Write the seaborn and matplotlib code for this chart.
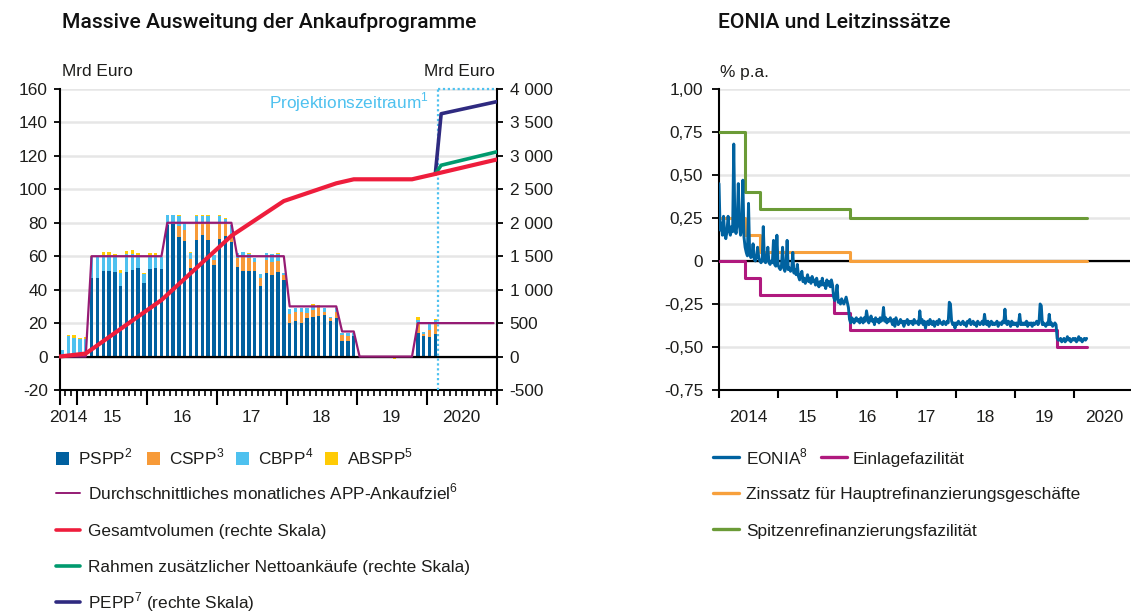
import numpy as np
import pandas as pd
import matplotlib
matplotlib.use("Agg")
import matplotlib.pyplot as plt
from matplotlib.lines import Line2D
from matplotlib.patches import Rectangle
import seaborn as sns

sns.set_theme(style="white")
plt.rcParams["font.family"] = ["Liberation Sans", "DejaVu Sans"]
plt.rcParams["mathtext.fontset"] = "custom"
plt.rcParams["mathtext.rm"] = "Liberation Sans"

# ---------------------------------------------------------------- data: APP
# monthly net purchases (Mrd Euro), Oct 2014 .. Feb 2020
pspp = [0, 0, 0, 0, 0,
        46.7, 47.0, 51.0, 51.0, 50.3, 41.9, 50.3, 51.5, 52.7, 43.9,
        52.1, 52.7, 52.5, 78.5, 79.4, 71.3, 68.9, 53.0, 69.5, 72.5, 69.5, 54.5,
        70.5, 72.0, 68.5, 53.5, 51.0, 51.0, 51.0, 42.0, 50.0, 49.0, 50.5, 45.5,
        20.2, 21.0, 19.8, 23.0, 23.4, 24.0, 24.6, 21.5, 22.8, 9.2, 9.6, 12.0,
        0, 0, 0, 0, 0, 0, 0, 0, 0, 0, 13.8, 12.0, 11.6, 13.2]
cspp = [0, 0, 0, 0, 0,
        0, 0, 0, 0, 0, 0, 0, 0, 0, 0,
        0, 0, 0, 0, 0, 6.6, 6.6, 5.5, 10.5, 8.0, 10.4, 3.4,
        9.0, 7.0, 5.0, 5.6, 8.4, 8.0, 5.5, 5.0, 8.0, 7.4, 6.4, 3.0,
        5.4, 5.6, 6.6, 3.0, 4.6, 6.0, 2.2, 1.6, 3.6, 3.4, 2.4, 0,
        0, 0.6, 0, 0, 0, 0, 0, 0, 0.4, 0, 6.0, 1.6, 4.4, 6.0]
cbpp = [4.0, 12.0, 10.8, 10.2, 10.2,
        12.8, 12.4, 10.0, 10.0, 9.6, 7.8, 10.8, 10.0, 8.2, 5.4,
        8.0, 7.4, 7.0, 6.0, 5.4, 6.0, 5.0, 3.5, 4.0, 3.4, 4.0, 2.6,
        4.4, 3.5, 5.0, 2.8, 3.0, 2.4, 2.5, 2.4, 4.0, 5.0, 4.6, 1.4,
        3.0, 2.6, 2.8, 3.0, 2.4, 0, 2.4, 0.8, 2.8, 1.4, 2.0, 2.0,
        0, 0, 0, 0, 0, 0, 0, 0, 0, 0, 2.0, 1.0, 3.4, 2.8]
abspp = [0, 0.6, 1.8, 0.6, 1.2,
         0.6, 0, 1.8, 1.6, 1.4, 1.8, 1.8, 2.0, 1.2, 0.6,
         1.6, 1.6, 0, 0.3, 0, 0.6, 0, 0.4, 0.6, 0.8, 1.0, 0,
         0.6, 0.5, 0, 0, 0, 0.4, 0, 0, 0, 0, 0.6, 0,
         0, 0, 0, 0, 0.8, 0.6, 0, 0, 0, 0, 0, 0,
         0, 0, 0, 0, 0, 0.4, -1.2, 0, 0, 0, 2.0, 0, 0, 0.6]

# average monthly APP purchase target, Oct 2014 .. Dec 2020
target = ([0, 0, 0, 0, 0]
          + [60] * 13 + [80] * 12 + [60] * 9 + [30] * 9 + [15] * 3
          + [0] * 10 + [20] * 14)

# holdings on the right scale (Mrd Euro), vertices at month positions
total_pos = [-0.5, 4, 17, 29, 38, 47, 50, 60, 64, 74.5]
total_val = [0, 45, 845, 1805, 2325, 2590, 2650, 2650, 2730, 2945]
frame_pos = [64, 65, 74.5]
frame_val = [2730, 2860, 3060]
pepp_pos = [64, 65, 74.5]
pepp_val = [2730, 3630, 3810]

year_labels_l = ["2014", "15", "16", "17", "18", "19", "2020"]
left_ticks = [-20, 0, 20, 40, 60, 80, 100, 120, 140, 160]
right_ticks = [-500, 0, 500, 1000, 1500, 2000, 2500, 3000, 3500, 4000]

# ---------------------------------------------------------------- data: rates
eonia = [
    # 2014
    0.45, 0.18, 0.22, 0.15, 0.26, 0.16, 0.13, 0.17, 0.26, 0.18, 0.15, 0.20, 0.17,
    0.68, 0.20, 0.16, 0.22, 0.45, 0.21, 0.15, 0.19, 0.47, 0.14, 0.08, 0.05, 0.03,
    0.335, 0.04, 0.02, 0.03, 0.10, 0.01, 0.00, 0.02, 0.08, 0.02, 0.00, -0.01, 0.00,
    0.20, 0.00, -0.01, 0.01, 0.08, -0.01, -0.02, 0.00, -0.01, 0.12, -0.02, -0.03,
    0.15, -0.02,
    # 2015
    -0.04, -0.05, -0.03, 0.08, -0.04, -0.06, -0.03, 0.12, -0.05, -0.04, -0.06, -0.05,
    0.05, -0.07, -0.05, -0.08, -0.02, -0.09, -0.11, -0.08, -0.06, -0.12, -0.10, -0.13,
    -0.11, -0.08, -0.12, -0.10, -0.13, -0.09, -0.12, -0.11, -0.14, -0.10, -0.13, -0.15,
    -0.12, -0.14, -0.10, -0.14, -0.13, -0.16, -0.11, -0.14, -0.12, -0.15, -0.11, -0.14,
    -0.21, -0.23, -0.20, -0.14,
    # 2016
    -0.24, -0.23, -0.25, -0.22, -0.24, -0.25, -0.23, -0.21, -0.24, -0.27, -0.34, -0.36,
    -0.33, -0.34, -0.36, -0.34, -0.33, -0.35, -0.34, -0.36, -0.33, -0.34, -0.36, -0.33,
    -0.35, -0.29, -0.33, -0.36, -0.34, -0.32, -0.35, -0.34, -0.37, -0.33, -0.35, -0.34,
    -0.36, -0.33, -0.35, -0.34, -0.27, -0.35, -0.33, -0.36, -0.34, -0.35, -0.33, -0.35,
    -0.37, -0.34, -0.38, -0.33,
    # 2017
    -0.35, -0.37, -0.36, -0.34, -0.36, -0.35, -0.38, -0.35, -0.36, -0.34, -0.37, -0.35,
    -0.36, -0.35, -0.37, -0.34, -0.36, -0.36, -0.35, -0.37, -0.29, -0.36, -0.34, -0.37,
    -0.35, -0.39, -0.36, -0.35, -0.37, -0.34, -0.36, -0.37, -0.35, -0.38, -0.36, -0.35,
    -0.37, -0.34, -0.36, -0.36, -0.37, -0.35, -0.36, -0.37, -0.35, -0.36, -0.24, -0.25,
    -0.35, -0.37, -0.36, -0.39,
    # 2018
    -0.36, -0.37, -0.35, -0.36, -0.37, -0.36, -0.35, -0.37, -0.36, -0.38, -0.35, -0.36,
    -0.34, -0.37, -0.36, -0.35, -0.37, -0.36, -0.38, -0.35, -0.36, -0.37, -0.36, -0.35,
    -0.37, -0.31, -0.36, -0.37, -0.35, -0.38, -0.36, -0.35, -0.37, -0.36, -0.37, -0.36,
    -0.35, -0.38, -0.36, -0.36, -0.37, -0.35, -0.36, -0.28, -0.36, -0.37, -0.35, -0.36,
    -0.38, -0.35, -0.37, -0.36,
    # 2019
    -0.37, -0.36, -0.38, -0.36, -0.31, -0.37, -0.36, -0.37, -0.36, -0.37, -0.35, -0.38,
    -0.36, -0.37, -0.36, -0.38, -0.36, -0.37, -0.36, -0.35, -0.37, -0.36, -0.25, -0.26,
    -0.37, -0.36, -0.37, -0.38, -0.36, -0.37, -0.31, -0.37, -0.36, -0.38, -0.37, -0.36,
    -0.37, -0.45, -0.46, -0.46, -0.45, -0.47, -0.46, -0.45, -0.47, -0.46, -0.44, -0.46,
    -0.45, -0.47, -0.46, -0.45,
    # 2020
    -0.46, -0.45, -0.47, -0.46, -0.44, -0.46, -0.45, -0.47, -0.46, -0.45, -0.46, -0.45,
]
rate_dates = ["2014-01-01", "2014-06-11", "2014-09-10", "2015-12-09",
              "2016-03-16", "2019-09-18", "2020-03-18"]
mlf = [0.75, 0.40, 0.30, 0.30, 0.25, 0.25, 0.25]
mro = [0.25, 0.15, 0.05, 0.05, 0.00, 0.00, 0.00]
dfr = [0.00, -0.10, -0.20, -0.30, -0.40, -0.50, -0.50]

rate_ticks = [-0.75, -0.50, -0.25, 0, 0.25, 0.50, 0.75, 1.00]
rate_labels = ["-0,75", "-0,50", "-0,25", "0", "0,25", "0,50", "0,75", "1,00"]
year_labels_r = ["2014", "15", "16", "17", "18", "19", "2020"]

# ---------------------------------------------------------------- styling
C_TXT = "#1d1d1b"
C_GRID = "#e6e6e6"
C_PSPP, C_CSPP, C_CBPP, C_ABS = "#00609f", "#f79a38", "#4ec1ef", "#ffcb05"
C_TARGET, C_TOTAL, C_FRAME, C_PEPP = "#951b74", "#ee1d3c", "#009a6e", "#2f2a80"
C_EONIA, C_DFR, C_MRO, C_MLF = "#0062a0", "#b0197e", "#f7a03c", "#6b9b37"
FS = 12.4

W, H = 1131, 612
fig = plt.figure(figsize=(W / 100, H / 100), dpi=100)
fig.patch.set_facecolor("white")


def fx(px):
    return px / W


def fy(py):
    return 1 - py / H


def yfrac(dates):
    d = pd.to_datetime(pd.Series(dates))
    days = np.where(d.dt.is_leap_year, 366, 365)
    return (d.dt.year + (d.dt.dayofyear - 1) / days).to_numpy()


def style_spines(a, keep):
    for name, sp in a.spines.items():
        sp.set_visible(name in keep)
        sp.set_color("black")
        sp.set_linewidth(1.5)


# ================================================================ left chart
ax = fig.add_axes([fx(59.5), fy(390), (496.5 - 59.5) / W, (390 - 89) / H])
ax.set_xlim(-0.5, 74.5)
ax.set_ylim(-20, 160)
ax.set_yticks(left_ticks)
ax.yaxis.grid(True, color=C_GRID, lw=1.8)
ax.set_axisbelow(True)

months = np.arange(len(pspp))
pos_bot = np.zeros(len(months))
neg_bot = np.zeros(len(months))
for vals, col in [(pspp, C_PSPP), (cspp, C_CSPP), (cbpp, C_CBPP), (abspp, C_ABS)]:
    v = np.asarray(vals, dtype=float)
    bottom = np.where(v >= 0, pos_bot, neg_bot)
    ax.bar(months, v, bottom=bottom, width=0.58, color=col, linewidth=0, zorder=2)
    pos_bot += np.clip(v, 0, None)
    neg_bot += np.clip(v, None, 0)

ax.axhline(0, color="black", lw=1.6, zorder=3)
sns.lineplot(x=np.arange(len(target)), y=target, ax=ax, color=C_TARGET, lw=1.6, zorder=4)

# projection window
proj_start = 64.45
ax.plot([proj_start, proj_start], [-20, 160], color=C_CBPP, lw=1.6, ls=(0, (1, 1.2)),
        zorder=5, clip_on=False)
ax.plot([proj_start, 74.5], [160, 160], color=C_CBPP, lw=1.6, ls=(0, (1, 1.2)),
        zorder=5, clip_on=False)
ax.text(62.9, 152.3, r"Projektionszeitraum$^\mathregular{1}$", color=C_CBPP,
        fontsize=FS, ha="right", va="center")

# x axis: year boundaries long, month boundaries short
year_edges = [-0.5, 2.5, 14.5, 26.5, 38.5, 50.5, 62.5, 74.5]
ax.set_xticks(year_edges)
ax.set_xticks(np.arange(-0.5, 75, 1.0), minor=True)
ax.tick_params(axis="x", which="major", length=11, width=1.5, color="black",
               labelbottom=False, bottom=True)
ax.tick_params(axis="x", which="minor", length=4.3, width=1.2, color="black", bottom=True)
for lab, xc in zip(year_labels_l, [1.0, 8.5, 20.5, 32.5, 44.5, 56.5, 68.5]):
    ax.text(xc, -0.093, lab, transform=ax.get_xaxis_transform(), ha="center",
            va="center", fontsize=FS, color=C_TXT)

ax.tick_params(axis="y", which="major", length=4.5, width=1.3, color="black",
               left=True, pad=4, labelsize=FS, labelcolor=C_TXT)
ax.set_yticklabels([f"{t:d}" for t in left_ticks])
ax.set_xlabel("")
ax.set_ylabel("")
style_spines(ax, ["left", "bottom"])

ax2 = ax.twinx()
ax2.set_ylim(-500, 4000)
ax2.set_yticks(right_ticks)
ax2.set_yticklabels([f"{t:,d}".replace(",", " ") for t in right_ticks])
ax2.tick_params(axis="y", length=4.5, width=1.3, color="black", right=True, pad=5,
                labelsize=FS, labelcolor=C_TXT)
ax2.grid(False)
style_spines(ax2, ["right"])
sns.lineplot(x=pepp_pos, y=pepp_val, ax=ax2, color=C_PEPP, lw=2.6, zorder=4)
sns.lineplot(x=frame_pos, y=frame_val, ax=ax2, color=C_FRAME, lw=2.6, zorder=5)
sns.lineplot(x=total_pos, y=total_val, ax=ax2, color=C_TOTAL, lw=3.0, zorder=6)
ax2.set_xlim(-0.5, 74.5)
ax2.set_xlabel("")
ax2.set_ylabel("")

# ================================================================ right chart
axr = fig.add_axes([fx(719), fy(390), (1130 - 719) / W, (390 - 89) / H])
x_end = 2014 + (1130 - 719) / 59.2
axr.set_xlim(2014, x_end)
axr.set_ylim(-0.75, 1.0)
axr.set_yticks(rate_ticks)
axr.set_yticklabels(rate_labels)
axr.yaxis.grid(True, color=C_GRID, lw=1.8)
axr.set_axisbelow(True)
axr.axhline(0, color="black", lw=1.6, zorder=2)

rx = yfrac(rate_dates)
sns.lineplot(x=rx, y=mlf, ax=axr, color=C_MLF, lw=2.2, drawstyle="steps-post", zorder=3)
sns.lineplot(x=rx, y=mro, ax=axr, color=C_MRO, lw=2.2, drawstyle="steps-post", zorder=3)
sns.lineplot(x=rx, y=dfr, ax=axr, color=C_DFR, lw=2.2, drawstyle="steps-post", zorder=3)
ex = yfrac(pd.date_range("2014-01-01", periods=len(eonia), freq="7D"))
sns.lineplot(x=ex, y=eonia, ax=axr, color=C_EONIA, lw=2.1, zorder=4)
axr.set_xlim(2014, x_end)
axr.set_xlabel("")
axr.set_ylabel("")

axr.set_xticks(np.arange(2014, 2021))
axr.tick_params(axis="x", length=5.8, width=1.5, color="black", bottom=True,
                labelbottom=False)
axr.tick_params(axis="y", length=5.4, width=1.3, color="black", left=True, pad=6,
                labelsize=FS, labelcolor=C_TXT)
for lab, xc in zip(year_labels_r, np.arange(2014, 2021) + 0.5):
    axr.text(xc, -0.09, lab, transform=axr.get_xaxis_transform(), ha="center",
             va="center", fontsize=FS, color=C_TXT)
style_spines(axr, ["left", "bottom"])

# ================================================================ titles & units
TITLE_FONT = dict(family=["Roboto", "Liberation Sans", "DejaVu Sans"], weight="medium",
                  fontsize=15.2, color="#111111", ha="left", va="baseline")
fig.text(fx(62), fy(28), "Massive Ausweitung der Ankaufprogramme", **TITLE_FONT)
fig.text(fx(718), fy(28), "EONIA und Leitzinssätze", **TITLE_FONT)
fig.text(fx(62), fy(76), "Mrd Euro", fontsize=FS, color=C_TXT, ha="left", va="baseline")
fig.text(fx(495), fy(76), "Mrd Euro", fontsize=FS, color=C_TXT, ha="right", va="baseline")
fig.text(fx(720), fy(77), "% p.a.", fontsize=FS, color=C_TXT, ha="left", va="baseline")

# ================================================================ legends


def leg_box(x0, yc, color, size=12.5):
    fig.add_artist(Rectangle((fx(x0), fy(yc + size / 2)), size / W, size / H,
                             transform=fig.transFigure, color=color, lw=0))


def leg_line(x0, x1, yc, color, lw):
    fig.add_artist(Line2D([fx(x0), fx(x1)], [fy(yc), fy(yc)],
                          transform=fig.transFigure, color=color, lw=lw))


def leg_text(x, base, s):
    fig.text(fx(x), fy(base), s, fontsize=FS, color=C_TXT, ha="left", va="baseline")


sup = lambda n: r"$^\mathregular{%s}$" % n
for x0, col, lab, n in [(56, C_PSPP, "PSPP", 2), (147, C_CSPP, "CSPP", 3),
                        (236, C_CBPP, "CBPP", 4), (325, C_ABS, "ABSPP", 5)]:
    leg_box(x0, 458.5, col)
    leg_text(x0 + 22, 464, lab + sup(n))

rows = [(493.3, C_TARGET, 1.4, "Durchschnittliches monatliches APP-Ankaufziel" + sup(6)),
        (529.5, C_TOTAL, 2.6, "Gesamtvolumen (rechte Skala)"),
        (566, C_FRAME, 2.6, "Rahmen zusätzlicher Nettoankäufe (rechte Skala)"),
        (602.3, C_PEPP, 2.6, "PEPP" + sup(7) + " (rechte Skala)")]
for yc, col, lw, lab in rows:
    leg_line(56, 80, yc, col, lw)
    leg_text(88, yc + 6.2, lab)

leg_line(713, 739, 456.7, C_EONIA, 2.4)
leg_text(746, 464, "EONIA" + sup(8))
leg_line(821, 847, 456.7, C_DFR, 2.4)
leg_text(853, 464, "Einlagefazilität")
leg_line(713, 739, 492.7, C_MRO, 2.4)
leg_text(746, 499.3, "Zinssatz für Hauptrefinanzierungsgeschäfte")
leg_line(713, 739, 529.3, C_MLF, 2.4)
leg_text(746, 536, "Spitzenrefinanzierungsfazilität")

fig.savefig("out.png", dpi=100, facecolor="white")
